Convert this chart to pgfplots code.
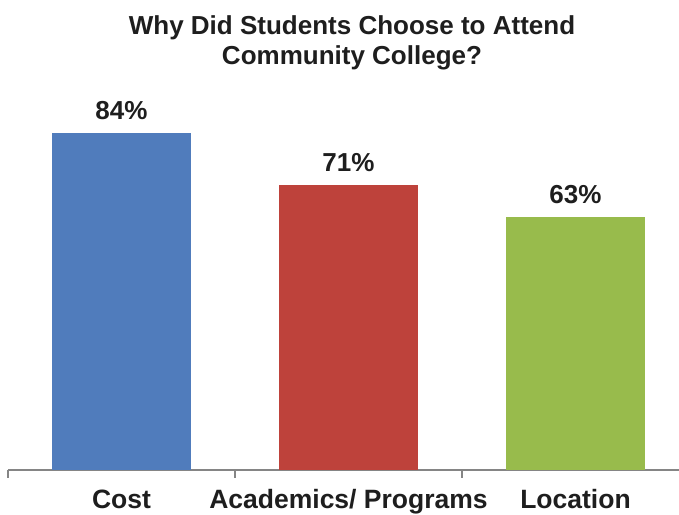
\documentclass[border=0pt]{standalone}
\usepackage{fontspec}
\setmainfont{Liberation Sans}
\usepackage{pgfplots}
\pgfplotsset{compat=1.18}
\definecolor{cblue}{HTML}{507CBC}
\definecolor{cred}{HTML}{BE423B}
\definecolor{cgreen}{HTML}{98BB4C}
\definecolor{axgray}{HTML}{858585}
\definecolor{txt}{HTML}{1E1E1E}
\begin{document}
\begin{tikzpicture}
\useasboundingbox (0,0) rectangle (679pt,514pt);
\fill[white] (0,0) rectangle (679pt,514pt);
\node[anchor=base,font=\fontsize{26}{30}\selectfont\bfseries,text=txt,inner sep=0pt] at (352pt,479pt) {Why Did Students Choose to Attend};
\node[anchor=base,font=\fontsize{26}{30}\selectfont\bfseries,text=txt,inner sep=0pt] at (352pt,449pt) {Community College?};
\begin{axis}[
  at={(8pt,44pt)}, anchor=south west,
  scale only axis,
  width=671pt, height=401pt,
  xmin=-0.5, xmax=2.456,
  ymin=0, ymax=100,
  axis lines=none,
  ybar, bar width=138pt, bar shift=0pt,
  clip=false,
  nodes near coords={\pgfmathprintnumber[assume math mode=true]{\pgfplotspointmeta}\%},
  every node near coord/.append style={anchor=base, yshift=14pt, font=\fontsize{26}{30}\selectfont\bfseries, text=txt, inner sep=0pt},
]
\draw[axgray, line width=1.4pt] (axis cs:-0.5,0) -- (axis cs:2.456,0);
\draw[axgray, line width=1.4pt] (axis cs:-0.5,0) -- ([yshift=-8pt]axis cs:-0.5,0);
\draw[axgray, line width=1.4pt] (axis cs:0.5,0) -- ([yshift=-8pt]axis cs:0.5,0);
\draw[axgray, line width=1.4pt] (axis cs:1.5,0) -- ([yshift=-8pt]axis cs:1.5,0);
\addplot[fill=cblue, draw=none] coordinates {(0,84)};
\addplot[fill=cred, draw=none] coordinates {(1,71)};
\addplot[fill=cgreen, draw=none] coordinates {(2,63)};
\node[anchor=base, font=\fontsize{26.5}{30}\selectfont\bfseries, text=txt, inner sep=0pt] at ([yshift=-38pt]axis cs:0,0) {Cost};
\node[anchor=base, font=\fontsize{26.5}{30}\selectfont\bfseries, text=txt, inner sep=0pt] at ([yshift=-38pt]axis cs:1,0) {Academics/ Programs};
\node[anchor=base, font=\fontsize{26.5}{30}\selectfont\bfseries, text=txt, inner sep=0pt] at ([yshift=-38pt]axis cs:2,0) {Location};
\end{axis}
\end{tikzpicture}
\end{document}
